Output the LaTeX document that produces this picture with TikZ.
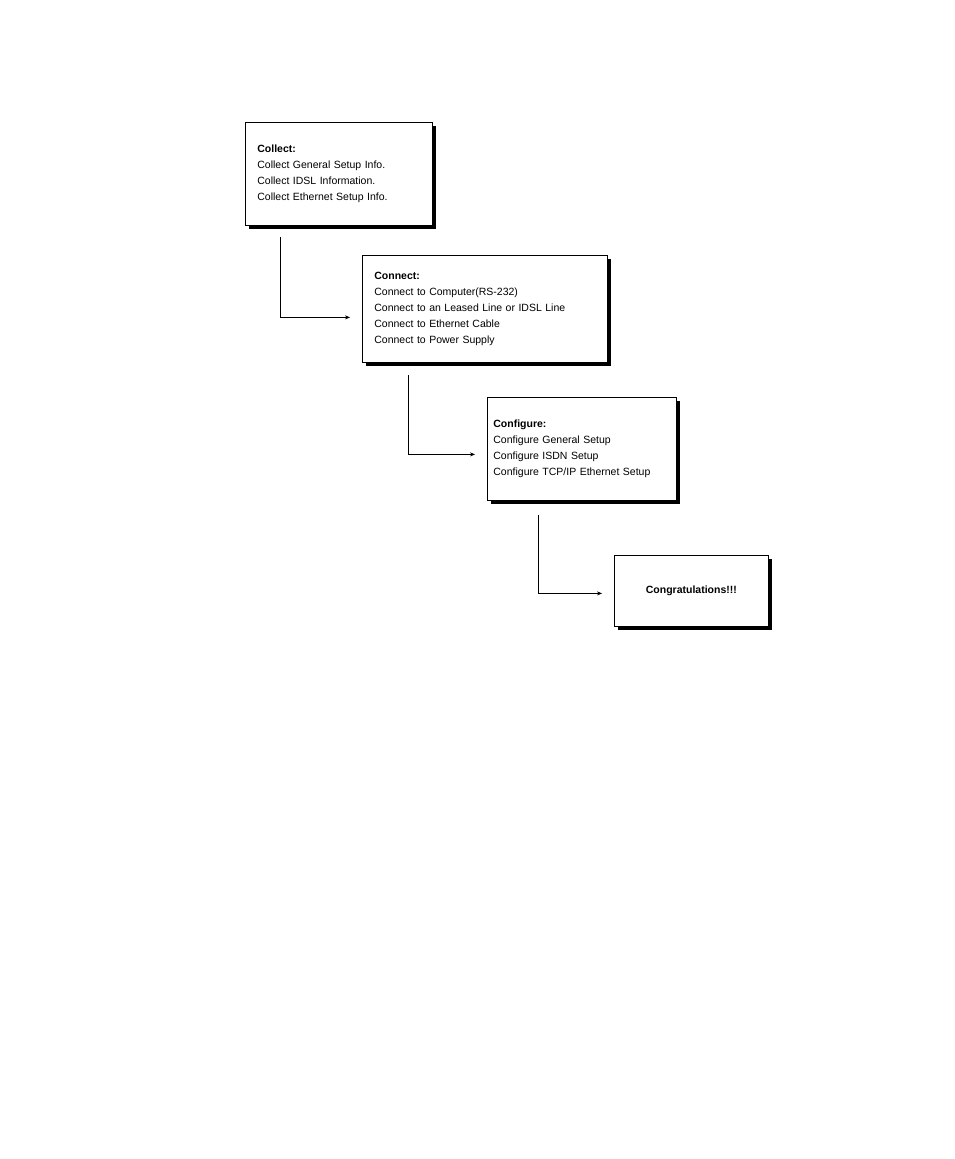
\documentclass[tikz,border=0pt]{standalone}
\usepackage{fontspec}
\setmainfont{Liberation Sans}
\usetikzlibrary{arrows.meta,shadows}
\begin{document}
\begin{tikzpicture}[x=1pt,y=1pt,
  stepbox/.style={draw=black,fill=white,line width=0.8pt,anchor=north west,
    align=left,inner xsep=12pt,inner ysep=0pt,
    font=\fontsize{10.5}{16}\selectfont,
    drop shadow={shadow xshift=4pt,shadow yshift=-4pt,fill=black,opacity=1}},
  conn/.style={line width=0.6pt,-{Stealth[length=5pt,width=4pt]},shorten >=12pt}]
\useasboundingbox (0,0) rectangle (954,-1159);
\node[stepbox,text width=163pt,minimum height=103pt] (collect) at (245,-122)
 {\textbf{Collect:}\\Collect General Setup Info.\\Collect IDSL Information.\\Collect Ethernet Setup Info.};
\node[stepbox,text width=221pt,minimum height=107pt] (connect) at (362,-255)
 {\textbf{Connect:}\\Connect to Computer(RS-232)\\Connect to an Leased Line or IDSL Line\\Connect to Ethernet Cable\\Connect to Power Supply};
\node[stepbox,inner xsep=6pt,text width=177pt,minimum height=103pt] (configure) at (487,-397)
 {\textbf{Configure:}\\Configure General Setup\\Configure ISDN Setup\\Configure TCP/IP Ethernet Setup};
\node[stepbox,align=center,text width=130pt,minimum height=71pt] (congrats) at (614,-555)
 {\textbf{Congratulations!!!}};
\coordinate (s1) at (280,-237);
\coordinate (s2) at (408,-375);
\coordinate (s3) at (538,-515);
\draw[conn] (s1) |- ([yshift=-8.5pt]connect.west);
\draw[conn] (s2) |- ([yshift=-5.5pt]configure.west);
\draw[conn] (s3) |- ([yshift=-2.5pt]congrats.west);
\end{tikzpicture}
\end{document}
